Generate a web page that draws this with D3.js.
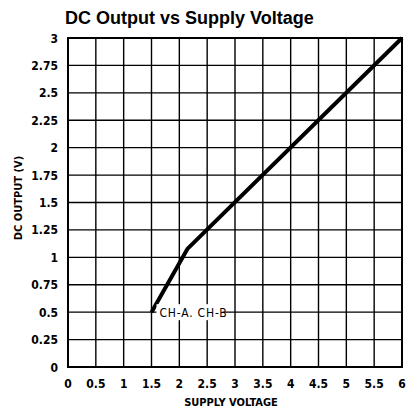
<!DOCTYPE html>
<html>
<head>
<meta charset="utf-8">
<script src="https://cdn.jsdelivr.net/npm/d3@7"></script>
<style>
body { margin: 0; background: #fff; }
.tick-label { font-family: "DejaVu Sans Condensed", "Liberation Sans Narrow", sans-serif; font-stretch: condensed; font-size: 12px; font-weight: bold; fill: #000; }
.ch-label { font-family: "DejaVu Sans Condensed", sans-serif; font-stretch: condensed; font-size: 12px; fill: #000; }
.axis-title { font-family: "DejaVu Sans Condensed", "Liberation Sans Narrow", sans-serif; font-stretch: condensed; font-size: 11px; font-weight: bold; fill: #000; }
</style>
</head>
<body>
<script>
// values
const xTicks = [0, 0.5, 1, 1.5, 2, 2.5, 3, 3.5, 4, 4.5, 5, 5.5, 6];
const yTicks = [0, 0.25, 0.5, 0.75, 1, 1.25, 1.5, 1.75, 2, 2.25, 2.5, 2.75, 3];
const supply = [1.5, 2.15, 6];
const output = [0.5, 1.08, 3];

const width = 407, height = 412;
const plotLeft = 68, plotRight = 402, plotTop = 38, plotBottom = 367;

let svg = d3.select("body")
    .append("svg")
    .attr("width", width)
    .attr("height", height);

let x = d3.scaleLinear().domain([0, 6]).range([plotLeft, plotRight]);
let y = d3.scaleLinear().domain([0, 3]).range([plotBottom, plotTop]);

svg.append("text")
    .attr("x", 65)
    .attr("y", 24)
    .attr("font-family", "Liberation Sans, Arial, sans-serif")
    .attr("font-weight", "bold")
    .attr("font-size", 18)
    .text("DC Output vs Supply Voltage");

// grid
svg.selectAll("line.vgrid")
    .data(xTicks)
    .enter()
    .append("line")
    .attr("x1", d => x(d))
    .attr("x2", d => x(d))
    .attr("y1", plotTop)
    .attr("y2", plotBottom)
    .attr("stroke", "#000")
    .attr("stroke-width", 1.4);

svg.selectAll("line.hgrid")
    .data(yTicks)
    .enter()
    .append("line")
    .attr("x1", plotLeft)
    .attr("x2", plotRight)
    .attr("y1", d => y(d))
    .attr("y2", d => y(d))
    .attr("stroke", "#000")
    .attr("stroke-width", 1.4);

svg.append("rect")
    .attr("x", plotLeft)
    .attr("y", plotTop)
    .attr("width", plotRight - plotLeft)
    .attr("height", plotBottom - plotTop)
    .attr("fill", "none")
    .attr("stroke", "#000")
    .attr("stroke-width", 2);

// curve
let pts = supply.map((s, i) => [s, output[i]]);
svg.append("path")
    .datum(pts)
    .attr("d", d3.line().x(d => x(d[0])).y(d => y(d[1])))
    .attr("fill", "none")
    .attr("stroke", "#000")
    .attr("stroke-width", 4)
    .attr("stroke-linejoin", "round");

// label on the 0.5 line
svg.append("rect")
    .attr("x", x(1.5) + 5)
    .attr("y", y(0.5) - 8)
    .attr("width", 66)
    .attr("height", 16)
    .attr("fill", "#fff");
svg.append("text")
    .attr("class", "ch-label")
    .attr("x", x(1.5) + 8)
    .attr("y", y(0.5) + 4.5)
    .attr("letter-spacing", 0.8)
    .text("CH-A. CH-B");

// tick labels
svg.selectAll("text.xt")
    .data(xTicks)
    .enter()
    .append("text")
    .attr("class", "tick-label")
    .attr("x", d => x(d))
    .attr("y", 388)
    .attr("text-anchor", "middle")
    .text(d => d);

svg.selectAll("text.yt")
    .data(yTicks)
    .enter()
    .append("text")
    .attr("class", "tick-label")
    .attr("x", 58)
    .attr("y", d => y(d) + 4.5)
    .attr("text-anchor", "end")
    .text(d => d);

svg.append("text")
    .attr("class", "axis-title")
    .attr("x", 231)
    .attr("y", 406)
    .attr("text-anchor", "middle")
    .text("SUPPLY VOLTAGE");

svg.append("text")
    .attr("class", "axis-title")
    .attr("transform", "translate(22,198) rotate(-90)")
    .attr("text-anchor", "middle")
    .text("DC OUTPUT (V)");
</script>
</body>
</html>
